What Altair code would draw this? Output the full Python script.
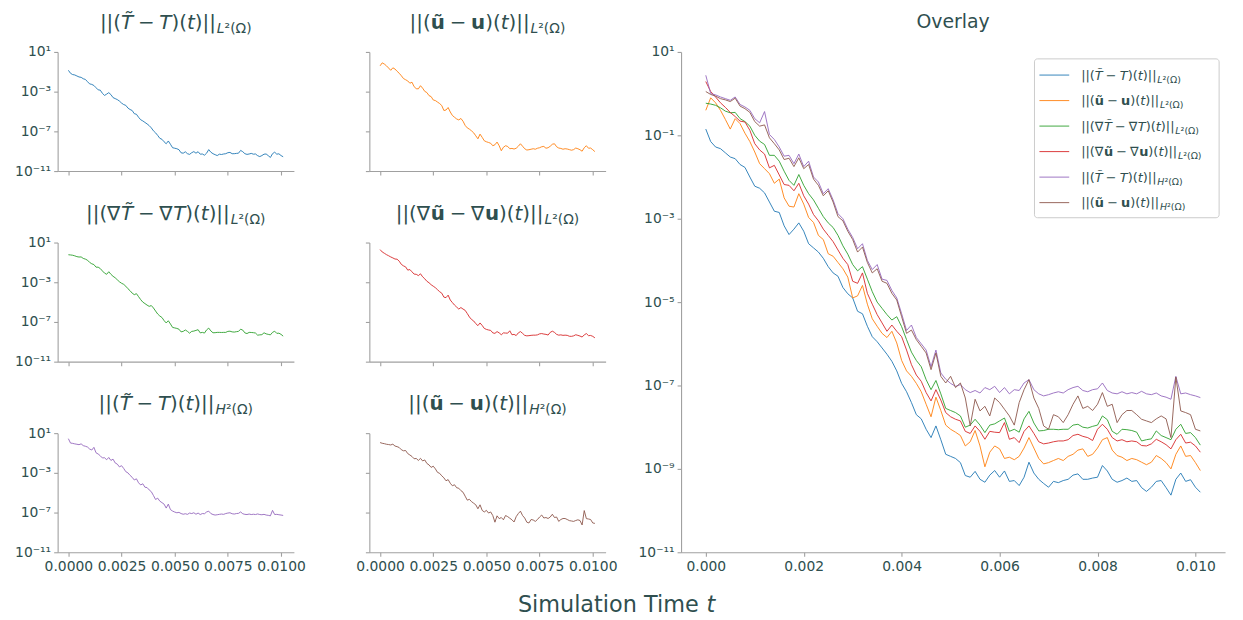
import altair as alt
import pandas as pd

FONT = "DejaVu Sans"
INK = "#2F4F4F"
SPINE = "#a0a0a0"

# time grid in milliseconds (0 .. 10.1 ms, step 0.1 ms)
T_MS = [round(0.1 * k, 1) for k in range(102)]

# log10 of each error norm
LOG_T_L2 = [-0.85, -1.15, -1.28, -1.32, -1.42, -1.52, -1.56, -1.70, -1.77, -2.00,
            -2.22, -2.27, -2.38, -2.60, -2.82, -2.85, -3.17, -3.38, -3.25, -3.10,
            -3.30, -3.60, -3.70, -3.80, -3.95, -4.15, -4.30, -4.38, -4.65, -4.80,
            -4.90, -5.22, -5.28, -5.58, -5.83, -5.95, -6.10, -6.25, -6.42, -6.65,
            -6.95, -7.15, -7.41, -7.70, -7.80, -8.05, -8.25, -7.97, -8.30, -8.65,
            -8.70, -8.75, -8.85, -9.16, -9.20, -9.06, -9.25, -9.32, -9.15, -9.04,
            -9.20, -9.05, -9.30, -9.28, -9.40, -9.20, -8.84, -9.10, -9.25, -9.35,
            -9.44, -9.30, -9.33, -9.28, -9.25, -9.15, -9.12, -9.25, -9.25, -9.22,
            -9.20, -8.92, -9.05, -9.25, -9.32, -9.28, -9.22, -9.30, -9.28, -9.45,
            -9.54, -9.44, -9.30, -9.28, -9.45, -9.63, -9.25, -9.10, -9.30, -9.26,
            -9.44, -9.56]

LOG_U_L2 = [-0.40, -0.10, -0.22, -0.40, -0.62, -0.85, -0.60, -0.72, -0.95, -1.15,
            -1.40, -1.68, -1.80, -1.92, -2.15, -2.05, -2.50, -2.70, -2.72, -2.40,
            -2.65, -2.97, -3.09, -3.40, -3.50, -3.84, -3.90, -4.05, -4.20, -4.40,
            -4.90, -4.85, -4.60, -5.05, -5.40, -5.58, -5.75, -5.85, -5.70, -5.98,
            -6.40, -6.65, -6.78, -6.95, -7.15, -7.45, -7.75, -7.28, -7.60, -7.95,
            -8.05, -8.12, -8.20, -8.45, -8.35, -8.08, -8.45, -8.95, -8.60, -8.45,
            -8.52, -8.75, -8.72, -8.78, -8.70, -8.50, -8.25, -8.50, -8.75, -8.88,
            -8.85, -8.80, -8.75, -8.80, -8.70, -8.65, -8.55, -8.52, -8.70, -8.65,
            -8.50, -8.30, -8.25, -8.55, -8.68, -8.72, -8.80, -8.75, -8.78, -8.84,
            -8.90, -8.84, -8.68, -8.75, -8.85, -9.00, -8.65, -8.45, -8.70, -8.68,
            -8.85, -9.04]

LOG_GT_L2 = [-0.23, -0.25, -0.28, -0.34, -0.42, -0.46, -0.45, -0.60, -0.67, -0.78,
             -1.00, -1.14, -1.22, -1.48, -1.48, -1.62, -1.86, -2.08, -2.20, -1.94,
             -2.20, -2.40, -2.55, -2.75, -2.95, -3.10, -3.21, -3.40, -3.65, -3.85,
             -4.10, -4.25, -4.15, -4.45, -4.75, -5.00, -5.15, -5.30, -5.43, -5.35,
             -5.59, -5.90, -6.20, -6.40, -6.55, -6.86, -7.10, -6.88, -7.20, -7.55,
             -7.60, -7.65, -7.73, -8.00, -7.95, -7.81, -7.95, -8.13, -7.95, -7.92,
             -7.85, -7.78, -8.10, -8.05, -8.12, -7.80, -7.62, -7.90, -8.09, -8.08,
             -8.05, -8.05, -8.06, -8.05, -8.05, -7.95, -7.93, -8.00, -8.02, -7.98,
             -7.95, -7.73, -7.82, -8.10, -8.17, -8.05, -8.06, -8.08, -8.12, -8.33,
             -8.30, -8.28, -8.09, -8.20, -8.25, -8.30, -8.05, -7.93, -8.15, -8.13,
             -8.25, -8.43]

LOG_GU_L2 = [0.29, 0.05, -0.08, -0.22, -0.33, -0.45, -0.55, -0.66, -0.68, -0.88,
             -1.20, -1.35, -1.45, -1.78, -1.72, -1.95, -2.18, -2.20, -2.33, -2.15,
             -2.45, -2.65, -2.90, -3.05, -3.25, -3.40, -3.55, -3.75, -3.95, -4.10,
             -4.50, -4.55, -4.30, -4.79, -5.05, -5.30, -5.50, -5.70, -5.55, -5.70,
             -5.83, -6.15, -6.50, -6.75, -6.90, -7.17, -7.37, -7.10, -7.35, -7.65,
             -7.75, -7.81, -7.85, -8.10, -8.15, -7.97, -8.10, -8.29, -8.10, -8.12,
             -8.13, -7.89, -8.29, -8.25, -8.37, -8.10, -7.97, -8.15, -8.35, -8.40,
             -8.38, -8.35, -8.33, -8.33, -8.30, -8.20, -8.17, -8.22, -8.25, -8.32,
             -8.05, -7.93, -8.05, -8.25, -8.33, -8.30, -8.35, -8.33, -8.35, -8.44,
             -8.45, -8.40, -8.29, -8.35, -8.42, -8.52, -8.30, -8.17, -8.38, -8.36,
             -8.45, -8.60]

LOG_T_H2 = [0.44, 0.00, -0.03, -0.08, -0.12, -0.16, -0.08, -0.26, -0.32, -0.40,
            -0.60, -0.70, -0.43, -0.98, -1.10, -1.28, -1.50, -1.48, -1.68, -1.45,
            -1.75, -1.62, -2.00, -2.12, -2.40, -2.28, -2.55, -2.88, -3.00, -3.25,
            -3.45, -3.72, -3.60, -4.00, -4.22, -4.10, -4.45, -4.48, -4.72, -4.90,
            -5.28, -5.68, -5.55, -5.85, -6.00, -6.15, -6.55, -6.15, -6.70, -6.85,
            -6.95, -7.02, -6.98, -7.10, -7.17, -7.12, -7.18, -7.05, -7.10, -7.02,
            -7.17, -7.05, -7.20, -7.10, -7.12, -6.94, -6.86, -7.10, -7.20, -7.25,
            -7.22, -7.18, -7.15, -7.18, -7.10, -7.05, -7.02, -7.12, -7.15, -7.10,
            -7.08, -6.94, -7.12, -7.18, -7.20, -7.15, -7.20, -7.17, -7.20, -7.14,
            -7.20, -7.22, -7.18, -7.25, -7.28, -7.33, -6.78, -7.20, -7.18, -7.22,
            -7.25, -7.29]

LOG_U_H2 = [0.05, -0.02, -0.06, -0.12, -0.15, -0.19, -0.11, -0.30, -0.36, -0.45,
            -0.67, -0.78, -0.75, -1.06, -1.20, -1.35, -1.58, -1.55, -1.75, -1.54,
            -1.80, -1.70, -2.05, -2.20, -2.45, -2.33, -2.60, -2.95, -3.05, -3.30,
            -3.50, -3.80, -3.68, -4.05, -4.30, -4.20, -4.50, -4.55, -4.79, -4.95,
            -5.35, -5.75, -5.67, -5.90, -6.06, -6.22, -6.62, -6.22, -6.78, -6.94,
            -6.78, -7.05, -6.94, -7.30, -7.97, -7.33, -7.61, -7.50, -7.73, -7.30,
            -7.41, -7.57, -7.73, -7.95, -7.41, -7.10, -6.86, -7.30, -7.55, -7.97,
            -8.05, -7.70, -7.75, -7.89, -7.70, -7.45, -7.25, -7.55, -7.50, -7.60,
            -7.45, -7.17, -7.50, -7.45, -7.89, -7.70, -7.60, -7.60, -7.70, -7.81,
            -7.85, -7.89, -7.80, -7.73, -7.80, -8.25, -6.80, -7.61, -7.65, -7.70,
            -8.05, -8.09]

COLORS = ["#1f77b4", "#ff7f0e", "#2ca02c", "#d62728", "#9467bd", "#8c564b"]

X_DOMAIN = [-0.000505, 0.010605]
Y_DOMAIN = [1e-11, 10]
SMALL_XTICKS = [0.0, 0.0025, 0.005, 0.0075, 0.01]
SMALL_YTICKS = [1e-11, 1e-7, 1e-3, 10]
BIG_XTICKS = [0.0, 0.002, 0.004, 0.006, 0.008, 0.01]
BIG_YTICKS = [1e-11, 1e-9, 1e-7, 1e-5, 1e-3, 1e-1, 10]

SUP_EXPR = ("datum.value < 1e-10 ? '10⁻¹¹' : datum.value < 1e-8 ? '10⁻⁹' : "
            "datum.value < 1e-6 ? '10⁻⁷' : datum.value < 1e-4 ? '10⁻⁵' : "
            "datum.value < 1e-2 ? '10⁻³' : datum.value < 1 ? '10⁻¹' : '10¹'")

# title / label pieces: (text, style) with n = normal, i = italic, b = bold, g = blank advance (em)
OPSP = 0.24
MAIN_T = [("||(", "n"), ("T\u0303", "i"), (OPSP, "g"), ("−", "n"), (OPSP, "g"), ("T", "i"),
          (")(", "n"), ("t", "i"), (")||", "n")]
MAIN_U = [("||(", "n"), ("u\u0303", "b"), (OPSP, "g"), ("−", "n"), (OPSP, "g"), ("u", "b"),
          (")(", "n"), ("t", "i"), (")||", "n")]
MAIN_GT = [("||(∇", "n"), ("T\u0303", "i"), (OPSP, "g"), ("−", "n"), (OPSP, "g"), ("∇", "n"), ("T", "i"),
           (")(", "n"), ("t", "i"), (")||", "n")]
MAIN_GU = [("||(∇", "n"), ("u\u0303", "b"), (OPSP, "g"), ("−", "n"), (OPSP, "g"), ("∇", "n"), ("u", "b"),
           (")(", "n"), ("t", "i"), (")||", "n")]
SUB_L2 = [("L", "i"), ("²(Ω)", "n")]
SUB_H2 = [("H", "i"), ("²(Ω)", "n")]

SERIES = [
    (LOG_T_L2, COLORS[0], MAIN_T, SUB_L2),
    (LOG_U_L2, COLORS[1], MAIN_U, SUB_L2),
    (LOG_GT_L2, COLORS[2], MAIN_GT, SUB_L2),
    (LOG_GU_L2, COLORS[3], MAIN_GU, SUB_L2),
    (LOG_T_H2, COLORS[4], MAIN_T, SUB_H2),
    (LOG_U_H2, COLORS[5], MAIN_U, SUB_H2),
]

# approximate DejaVu Sans advance widths (em)
ADV = {'|': 0.337, '(': 0.390, ')': 0.390, 'T': 0.611, 't': 0.392,
       'u': 0.634, '−': 0.838, '∇': 0.70, 'L': 0.557, 'H': 0.752, '²': 0.402, 'Ω': 0.764,
       '\u0303': 0.0, 'S': 0.635, 'i': 0.278, 'm': 0.974, 'l': 0.278, 'a': 0.613, 'o': 0.612,
       'n': 0.634, 'e': 0.615, 'O': 0.787, 'v': 0.592, 'r': 0.411, 'y': 0.592}
ADV_BOLD = {'u': 0.712}


def seg_width(text, kind, fs):
    if kind == "g":
        return text * fs
    w = 0.0
    for c in text:
        if kind == "b" and c in ADV_BOLD:
            w += ADV_BOLD[c]
        else:
            w += ADV.get(c, 0.6)
    return w * fs


def text_rows(main, sub, base, fs, sfs=0, sub_dy=0, cx=None, left=None, gap=1.0):
    mw = [seg_width(t, k, fs) for t, k in main]
    sw = [seg_width(t, k, sfs) for t, k in sub]
    total = sum(mw) + (gap + sum(sw) if sub else 0)
    x = left if left is not None else cx - total / 2
    rows = []
    for (t, k), w in zip(main, mw):
        if k != "g":
            rows.append({"px": x, "py": base, "txt": t, "kind": k, "fs": fs})
        x += w
    if sub:
        x += gap
        for (t, k), w in zip(sub, sw):
            if k != "g":
                rows.append({"px": x, "py": base + sub_dy, "txt": t, "kind": k, "fs": sfs})
            x += w
    return rows


def text_layers(rows):
    df = pd.DataFrame(rows)
    layers = []
    for kind, style, weight in [("n", "normal", "normal"), ("i", "italic", "normal"), ("b", "normal", "bold")]:
        part = df[df["kind"] == kind]
        if len(part) == 0:
            continue
        layers.append(
            alt.Chart(part).mark_text(align="left", baseline="alphabetic", font=FONT,
                                      fontStyle=style, fontWeight=weight, color=INK).encode(
                x=alt.X("px:Q", scale=None, axis=None),
                y=alt.Y("py:Q", scale=None, axis=None),
                text="txt:N",
                size=alt.Size("fs:Q", scale=None, legend=None),
            )
        )
    return layers


def frame(logs):
    return pd.DataFrame({"t": [v / 1000.0 for v in T_MS], "err": [10.0 ** v for v in logs]})


# figure geometry (pixels inside the plotting group)
FIG_W, FIG_H = 1176, 504
COLS = [(0, 238), (314, 552)]
ROWS = [(0, 120), (192, 312), (384, 504)]
BIG_X = (628, 1176)
BIG_Y = (0, 504)


def line_layer(logs, color, xr, yr, xticks, yticks, xfmt, xlabels, ylabels):
    # xr = (left, right) pixel range, yr = (top, bottom) pixel range inside the figure group
    return alt.Chart(frame(logs)).mark_line(color=color, strokeWidth=0.9).encode(
        x=alt.X("t:Q", scale=alt.Scale(domain=X_DOMAIN, range=[xr[0], xr[1]], nice=False, zero=False),
                axis=alt.Axis(values=xticks, format=xfmt, labels=xlabels, title=None, grid=False,
                              orient="bottom", offset=yr[1] - FIG_H, labelFlush=False)),
        y=alt.Y("err:Q", scale=alt.Scale(type="log", domain=Y_DOMAIN, range=[yr[1], yr[0]], nice=False),
                axis=alt.Axis(values=yticks, labelExpr=SUP_EXPR, labels=ylabels, title=None, grid=False,
                              orient="left", offset=-xr[0], labelFlush=False)),
    )


layers = []
text = []
for i, (logs, color, main, sub) in enumerate(SERIES):
    r, c = divmod(i, 2)
    xr, yr = COLS[c], ROWS[r]
    layers.append(line_layer(logs, color, xr, yr, SMALL_XTICKS, SMALL_YTICKS, ".4f",
                             xlabels=(r == 2), ylabels=(c == 0)))
    text += text_rows(main, sub, base=yr[0] - 23, fs=20, sfs=14, sub_dy=4, cx=(xr[0] + xr[1]) / 2)

overlay_lines = alt.layer(*[line_layer(s[0], s[1], BIG_X, BIG_Y, BIG_XTICKS, BIG_YTICKS, ".3f", True, True)
                            for s in SERIES])
layers.append(overlay_lines)

LEG_X0 = BIG_X[0]
legend_box = alt.Chart(pd.DataFrame({"k": [0]})).mark_rect(
    fill="white", fillOpacity=0.8, stroke="#cccccc", strokeWidth=1, cornerRadius=3).encode(
    x=alt.value(LEG_X0 + 356), x2=alt.value(LEG_X0 + 542), y=alt.value(7), y2=alt.value(167))

LEG_Y = [23.3 + 25.7 * i for i in range(6)]
legend_lines = alt.Chart(pd.DataFrame({"ly": LEG_Y, "c": COLORS})).mark_rule(strokeWidth=0.9).encode(
    x=alt.value(LEG_X0 + 361), x2=alt.value(LEG_X0 + 391),
    y=alt.Y("ly:Q", scale=None, axis=None),
    color=alt.Color("c:N", scale=None, legend=None))

for i, s in enumerate(SERIES):
    text += text_rows(s[2], s[3], base=LEG_Y[i] + 4.5, fs=13, sfs=9.5, sub_dy=3, left=LEG_X0 + 403, gap=0.8)
text += text_rows([("Overlay", "n")], [], base=-24, fs=19, cx=(BIG_X[0] + BIG_X[1]) / 2)
text += text_rows([("Simulation", "n"), (0.318, "g"), ("Time", "n"), (0.318, "g"), ("t", "i")], [],
                  base=564, fs=22.5, cx=563)

chart = alt.layer(*layers, legend_box, legend_lines, *text_layers(text)).resolve_scale(
    x="independent", y="independent", color="independent"
).properties(
    width=FIG_W, height=FIG_H,
    autosize=alt.AutoSizeParams(type="none"),
    padding={"left": 50, "top": 42, "right": 10, "bottom": 70},
).configure(font=FONT).configure_view(stroke=None).configure_axis(
    domainColor=SPINE, tickColor=SPINE, labelColor=INK, labelFont=FONT, labelFontSize=14,
    tickSize=4, labelPadding=3, domainWidth=1.1, tickWidth=1.1, grid=False)

chart.save("out.html", embed_options={"renderer": "svg", "actions": False})
